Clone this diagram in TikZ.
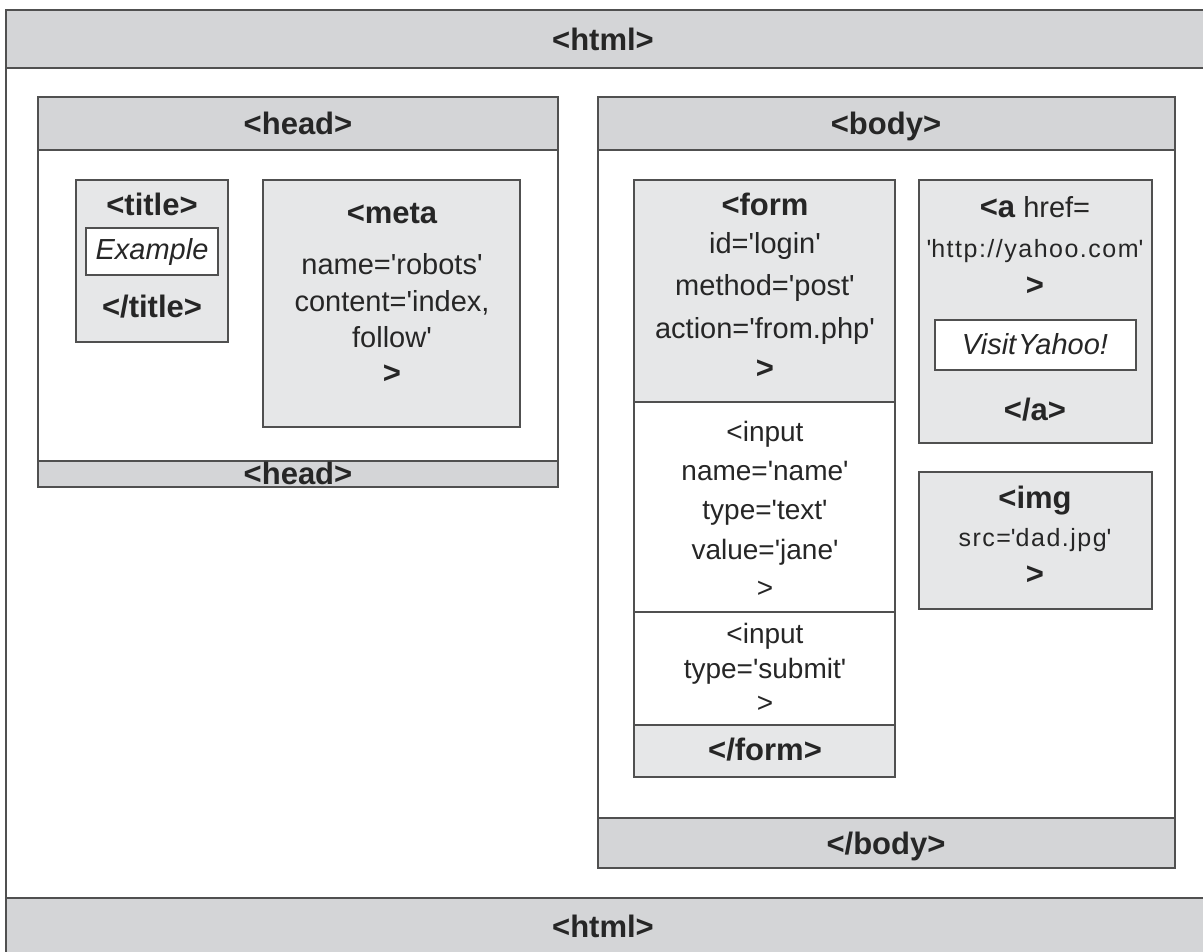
\documentclass[tikz,border=0pt]{standalone}
\usepackage{fontspec}
\setmainfont{Liberation Sans}
\newcommand\sq{\textquotesingle}
\definecolor{linec}{HTML}{505050}
\definecolor{bandc}{HTML}{D4D5D7}
\definecolor{palec}{HTML}{E6E7E8}
\tikzset{
  frame/.style={draw=linec, line width=1.7pt},
  band/.style={frame, fill=bandc},
  pale/.style={frame, fill=palec},
  wbox/.style={frame, fill=white},
  txt/.style={inner sep=0pt, anchor=base, text=black!85},
  bigtag/.style={txt, font=\bfseries\fontsize{31}{36}\selectfont},
  tag/.style={txt, font=\bfseries\fontsize{31}{36}\selectfont},
  attr/.style={txt, font=\fontsize{29}{34}\selectfont},
  inp/.style={txt, font=\fontsize{28}{32}\selectfont},
  small/.style={txt, font=\fontsize{25}{30}\selectfont\addfontfeature{LetterSpace=6}},
  ital/.style={txt, font=\itshape\fontsize{29}{34}\selectfont},
}
\begin{document}
\begin{tikzpicture}[x=1pt,y=-1pt]
\useasboundingbox (0,0) rectangle (1203,952);
\clip (0,0) rectangle (1203,952);
\fill[white] (0,0) rectangle (1203,952);
% outer html
\draw[frame, fill=white] (6,10) rectangle (1230,980);
\draw[band] (6,10) rectangle (1230,68);
\draw[band] (6,898) rectangle (1230,980);
\node[bigtag] (html1) at (603,51) {<html>};
\node[bigtag] (html2) at (603,937) {<html>};
% head
\draw[wbox] (38,97) rectangle (558,487);
\draw[band] (38,97) rectangle (558,150);
\draw[band] (38,461) rectangle (558,487);
\node[bigtag] (head1) at (298,135) {<head>};
\node[bigtag] (head2) at (298,484) {<head>};
% title
\draw[pale] (76,180) rectangle (228,342);
\draw[wbox] (86,228) rectangle (218,275);
\node[tag] (title1) at (152,216) {<title>};
\node[ital] (example) at (152,260) {Example};
\node[tag] (title2) at (152,317) {</title>};
% meta
\draw[pale] (263,180) rectangle (520,427);
\node[tag] (meta1) at (392,224) {<meta};
\node[attr] (meta2) at (392,275) {name=\sq robots\sq};
\node[attr] (meta3) at (392,312) {content=\sq index,};
\node[attr] (meta4) at (392,348) {follow\sq};
\node[tag] (meta5) at (392,383) {>};
% body
\draw[wbox] (598,97) rectangle (1175,868);
\draw[band] (598,97) rectangle (1175,150);
\draw[band] (598,818) rectangle (1175,868);
\node[bigtag] (body1) at (886,135) {<body>};
\node[bigtag] (body2) at (886,854) {</body>};
% form
\draw[pale] (634,180) rectangle (895,402);
\draw[wbox] (634,402) rectangle (895,612);
\draw[wbox] (634,612) rectangle (895,725);
\draw[pale] (634,725) rectangle (895,777);
\node[tag] (form1) at (765,216) {<form};
\node[attr] (form2) at (765,254) {id=\sq login\sq};
\node[attr] (form3) at (765,295) {method=\sq post\sq};
\node[attr] (form4) at (765,338) {action=\sq from.php\sq};
\node[tag] (form5) at (765,378) {>};
\node[inp] (in1a) at (765,441) {<input};
\node[inp] (in1b) at (765,480) {name=\sq name\sq};
\node[inp] (in1c) at (765,519) {type=\sq text\sq};
\node[inp] (in1d) at (765,559) {value=\sq jane\sq};
\node[inp] (in1e) at (765,597) {>};
\node[inp] (in2a) at (765,643) {<input};
\node[inp] (in2b) at (765,678) {type=\sq submit\sq};
\node[inp] (in2c) at (765,712) {>};
\node[tag] (form6) at (765,760) {</form>};
% a
\draw[pale] (919,180) rectangle (1152,443);
\draw[wbox] (935,320) rectangle (1136,370);
\node[txt] (a1) at (1035,218) {\fontsize{31}{36}\selectfont\bfseries <a\mdseries\fontsize{29}{34}\selectfont\ href=};
\node[small] (a2) at (1035,258) {\sq http://yahoo.com\sq};
\node[tag] (a3) at (1035,295) {>};
\node[ital] (visit) at (1035,355) {Visit\kern2pt Yahoo!};
\node[tag] (a4) at (1035,420) {</a>};
% img
\draw[pale] (919,472) rectangle (1152,609);
\node[tag] (img1) at (1035,508) {<img};
\node[small] (img2) at (1035,546) {src=\sq dad.jpg\sq};
\node[tag] (img3) at (1035,584) {>};
\end{tikzpicture}
\end{document}
